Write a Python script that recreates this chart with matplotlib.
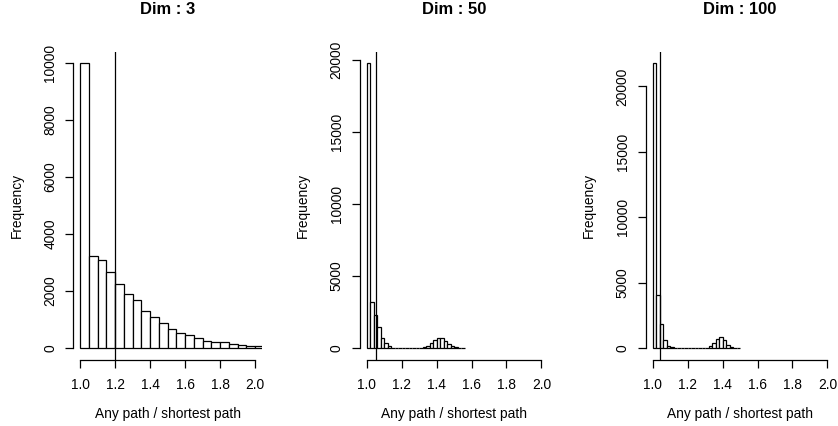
import numpy as np
import matplotlib
matplotlib.use("Agg")
import matplotlib.pyplot as plt

plt.rcParams['font.family'] = ['Liberation Sans', 'DejaVu Sans']

# ---- data -------------------------------------------------------------
titles = ["Dim : 3", "Dim : 50", "Dim : 100"]
x_label = "Any path / shortest path"
y_label = "Frequency"

# histogram of path-length ratios, dimension 3 (bins of 0.05 starting at 1.0)
dim3_start = 1.0
dim3_width = 0.05
dim3_counts = [10000, 3220, 3080, 2670, 2262, 1909, 1674, 1299, 1088, 877,
               680, 526, 470, 365, 260, 225, 200, 140, 105, 84, 60]
dim3_marker = 1.2

# dimension 50 (bins of 0.02 starting at 1.0)
dim50_start = 1.0
dim50_width = 0.02
dim50_counts = [19800, 3172, 2290, 1440, 730, 330, 140, 40, 15, 8,
                5, 3, 3, 5, 10, 25, 70, 170, 347, 583,
                722, 694, 486, 305, 118, 45, 15, 5]
dim50_marker = 1.055

# dimension 100 (bins of 0.02 starting at 1.0)
dim100_start = 1.0
dim100_width = 0.02
dim100_counts = [21800, 4030, 1866, 589, 130, 50, 15, 8, 4, 3,
                 2, 2, 3, 6, 15, 40, 150, 400, 700, 850,
                 600, 215, 80, 25, 8]
dim100_marker = 1.042

x_ticks = [1.0, 1.2, 1.4, 1.6, 1.8, 2.0]
y_ticks_dim3 = [0, 2000, 4000, 6000, 8000, 10000]
y_ticks_high = [0, 5000, 10000, 15000, 20000]

panels = [
    (titles[0], dim3_start, dim3_width, dim3_counts, dim3_marker, y_ticks_dim3),
    (titles[1], dim50_start, dim50_width, dim50_counts, dim50_marker, y_ticks_high),
    (titles[2], dim100_start, dim100_width, dim100_counts, dim100_marker, y_ticks_high),
]

# ---- layout (pixels) -------------------------------------------------
W, H = 838, 426
fig = plt.figure(figsize=(W / 100, H / 100), dpi=100)
fig.patch.set_facecolor('white')

plot_lefts = [73.3, 359.7, 645.7]
plot_w = 188.7
plot_top, plot_bottom = 51.5, 359.5
plot_h = plot_bottom - plot_top

LW = 0.9
FS = 9.9

for (title, start, width, counts, marker, yticks), left in zip(panels, plot_lefts):
    ax = fig.add_axes([left / W, 1 - plot_bottom / H, plot_w / W, plot_h / H])
    ax.set_facecolor('white')

    counts = np.asarray(counts, dtype=float)
    lefts = start + width * np.arange(len(counts))
    ax.bar(lefts, counts, width=width, align='edge', color='white',
           edgecolor='black', linewidth=LW)
    ax.axvline(marker, color='black', linewidth=LW)

    ymax = counts.max()
    ax.set_xlim(0.96, 2.04)
    ax.set_ylim(-0.04 * ymax, 1.04 * ymax)

    for side in ('top', 'right'):
        ax.spines[side].set_visible(False)
    ax.spines['left'].set_bounds(yticks[0], yticks[-1])
    ax.spines['bottom'].set_bounds(x_ticks[0], x_ticks[-1])
    for side in ('left', 'bottom'):
        ax.spines[side].set_linewidth(LW)

    ax.set_xticks(x_ticks)
    ax.set_xticklabels([f"{t:.1f}" for t in x_ticks])
    ax.set_yticks(yticks)
    ax.set_yticklabels([str(t) for t in yticks])
    ax.tick_params(axis='both', direction='out', length=5.5, width=LW,
                   labelsize=FS)
    ax.tick_params(axis='x', pad=8)
    ax.tick_params(axis='y', labelrotation=90, pad=6)
    for lab in ax.get_yticklabels():
        lab.set_va('center')

    ax.text(0.5, 1 + (plot_top - 10) / plot_h, title, transform=ax.transAxes,
            ha='center', va='center', fontsize=FS * 1.2, fontweight='bold')
    ax.set_xlabel(x_label, fontsize=FS)
    ax.xaxis.set_label_coords(0.5, -(414 - plot_bottom) / plot_h)
    ax.xaxis.label.set_va('center')
    ax.set_ylabel(y_label, fontsize=FS)
    ax.yaxis.set_label_coords(-56.6 / plot_w, 0.5)
    ax.yaxis.label.set_va('center')

fig.savefig("out.png", dpi=100, facecolor='white')
